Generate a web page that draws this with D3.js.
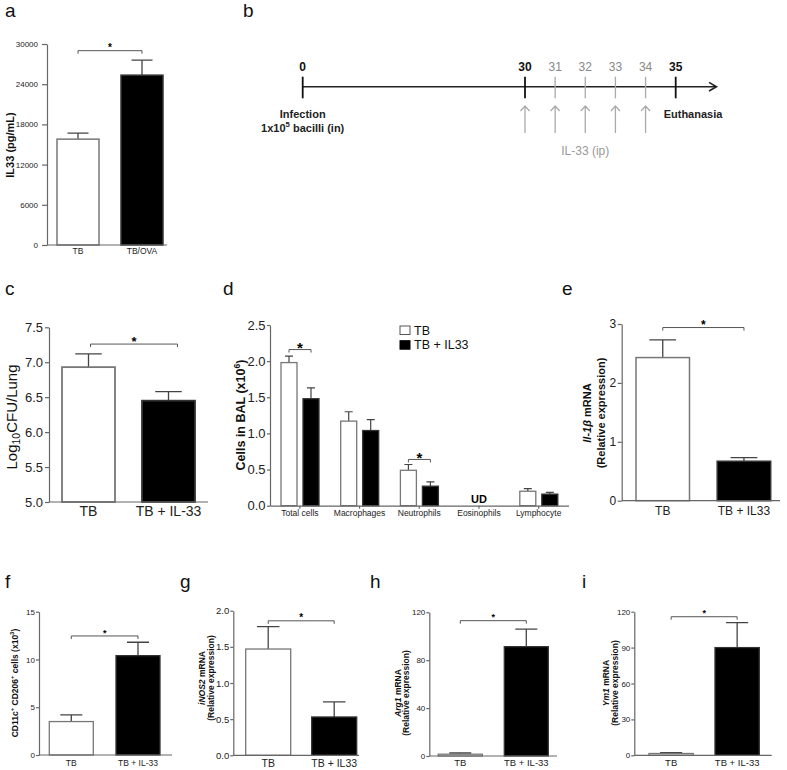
<!DOCTYPE html>
<meta charset="utf-8">
<script src="https://d3js.org/d3.v7.min.js"></script>
<style>
  body { margin: 0; background: #fff; }
  text { font-family: "Liberation Sans", Arial, sans-serif; }
</style>
<div id="fig"></div>
<script>
// ---- data ----
// a: IL33 in lung
const groupsA = ["TB", "TB/OVA"];
const il33A = [15800, 25350];
const semA = [900, 2250];
const ticksA = [0, 6000, 12000, 18000, 24000, 30000];

// b: protocol timeline (days)
const timelineDays = [0, 30, 31, 32, 33, 34, 35];
const keyDays = [0, 30, 35];
const doseDays = [30, 31, 32, 33, 34];

// c: CFU
const groupsC = ["TB", "TB + IL-33"];
const cfuC = [6.93, 6.45];
const semC = [0.19, 0.13];
const ticksC = [5.0, 5.5, 6.0, 6.5, 7.0, 7.5];

// d: cells in BAL
const cellTypes = ["Total cells", "Macrophages", "Neutrophils", "Eosinophils", "Lymphocyte"];
const seriesD = ["TB", "TB + IL33"];
const cellsTB = [1.98, 1.17, 0.49, null, 0.20];
const semCellsTB = [0.09, 0.13, 0.08, null, 0.035];
const cellsIL33 = [1.48, 1.04, 0.27, null, 0.16];
const semCellsIL33 = [0.15, 0.15, 0.06, null, 0.025];
const ticksD = [0, 0.5, 1.0, 1.5, 2.0, 2.5];

// e: Il-1b mRNA
const groupsE = ["TB", "TB + IL33"];
const il1bE = [2.43, 0.67];
const semE = [0.30, 0.06];
const ticksE = [0, 1, 2, 3];

// f: CD11c+ CD206+ cells
const groupsF = ["TB", "TB + IL-33"];
const cd206F = [3.5, 10.4];
const semF = [0.7, 1.4];
const ticksF = [0, 5, 10, 15];

// g: iNOS2 mRNA
const groupsG = ["TB", "TB + IL33"];
const inos2G = [1.47, 0.53];
const semG = [0.31, 0.21];
const ticksG = [0, 0.5, 1.0, 1.5, 2.0];

// h: Arg1 mRNA
const groupsH = ["TB", "TB + IL-33"];
const arg1H = [1.5, 91.3];
const semH = [1.0, 14.7];
const ticksH = [0, 40, 80, 120];

// i: Ym1 mRNA
const groupsI = ["TB", "TB + IL-33"];
const ym1I = [1.5, 90];
const semI = [0.7, 20.8];
const ticksI = [0, 30, 60, 90, 120];

const svg = d3.select("#fig").append("svg")
    .attr("width", 787)
    .attr("height", 770);

const AXIS = "#666";

// text with italic / sup / sub pieces
function rich(sel, segs, fs) {
    let cur = 0;
    segs.forEach(s => {
        let target = 0, size = fs;
        if (s.sup) { target = -fs * 0.42; size = fs * 0.7; }
        if (s.sub) { target = fs * 0.25; size = fs * 0.7; }
        const ts = sel.append("tspan").text(s.t).attr("font-size", size);
        if (target !== cur) ts.attr("dy", target - cur);
        if (s.it) ts.attr("font-style", "italic");
        cur = target;
    });
}

function yTitle(lines, xs, cy, fs, bold) {
    lines.forEach((segs, i) => {
        const t = svg.append("text")
            .attr("transform", `translate(${xs[i]},${cy}) rotate(-90)`)
            .attr("text-anchor", "middle")
            .attr("font-size", fs)
            .attr("font-weight", bold ? "bold" : "normal")
            .attr("fill", "#111");
        rich(t, segs, fs);
    });
}

function letter(t, x, y) {
    svg.append("text").attr("x", x).attr("y", y)
        .attr("font-size", 19).attr("fill", "#111").text(t);
}

function bracket(x1, x2, yy, starSize) {
    svg.append("path")
        .attr("d", `M${x1},${yy + 3}V${yy}H${x2}V${yy + 3}`)
        .attr("fill", "none").attr("stroke", "#555").attr("stroke-width", 1);
    svg.append("text")
        .attr("x", (x1 + x2) / 2)
        .attr("y", yy - 5.5 + starSize * 0.58)
        .attr("text-anchor", "middle")
        .attr("font-size", starSize)
        .attr("font-weight", "bold")
        .text("*");
}

function leftAxis(y, x0, ticks, fmt, o) {
    svg.append("g")
        .attr("transform", `translate(${x0},0)`)
        .call(d3.axisLeft(y).tickValues(ticks).tickFormat(fmt)
            .tickSize(o.tl).tickSizeOuter(0).tickPadding(o.tp))
        .call(a => {
            a.attr("font-size", null).attr("font-family", null);
            a.selectAll("text").attr("font-size", o.tf).attr("fill", "#222");
            a.selectAll("line,path").attr("stroke", AXIS).attr("stroke-width", 1.2);
        });
}

// two-bar panel
function twoBar(o) {
    const y = d3.scaleLinear().domain(o.domain).range([o.yBot, o.yTop]);
    const n = o.labels.length;
    const tot = o.bars[1] - o.bars[0];
    const x = d3.scaleBand().domain(o.labels).range(o.bars)
        .paddingInner((tot - n * o.bw) / (tot - o.bw)).paddingOuter(0);
    const rows = o.labels.map((k, i) => ({ k, m: o.means[i], s: o.sems[i], i }));
    const bw = x.bandwidth();

    // error bars (upper only)
    const cap = bw * (o.cap || 0.5) / 2;
    svg.append("g").selectAll("path").data(rows).join("path")
        .attr("d", d => {
            const cx = x(d.k) + bw / 2, y0 = y(d.m), y1 = y(d.m + d.s);
            return `M${cx},${y0}V${y1}M${cx - cap},${y1}H${cx + cap}`;
        })
        .attr("fill", "none").attr("stroke", "#444").attr("stroke-width", 1.3);

    svg.append("g").selectAll("rect").data(rows).join("rect")
        .attr("x", d => x(d.k))
        .attr("width", bw)
        .attr("y", d => y(d.m))
        .attr("height", d => o.yBot - y(d.m))
        .attr("fill", d => d.i ? "#000" : "#fff")
        .attr("stroke", d => d.i ? "#333" : "#777")
        .attr("stroke-width", o.sw || 1.3);

    leftAxis(y, o.x0, o.ticks, o.fmt, o);

    // x axis line + labels
    svg.append("line")
        .attr("x1", o.x0).attr("x2", o.x1)
        .attr("y1", o.yBot).attr("y2", o.yBot)
        .attr("stroke", AXIS).attr("stroke-width", 1.2);
    svg.append("g")
        .attr("transform", `translate(0,${o.yBot})`)
        .call(d3.axisBottom(x).tickSize(0).tickPadding(o.xBase - o.yBot - 0.71 * o.xf))
        .call(a => {
            a.attr("font-size", null).attr("font-family", null);
            a.select(".domain").remove();
            a.selectAll("text").attr("font-size", o.xf).attr("fill", "#222");
        });

    const c0 = x(o.labels[0]) + bw / 2 + (o.bOff ? o.bOff[0] : 0);
    const c1 = x(o.labels[1]) + bw / 2 + (o.bOff ? o.bOff[1] : 0);
    bracket(c0, c1, y(o.sig), o.star);
}

// ---------------- panel a ----------------
letter("a", 5, 17);
twoBar({
    labels: groupsA, means: il33A, sems: semA, ticks: ticksA, fmt: d3.format("d"),
    domain: [0, 30000], yTop: 44, yBot: 245, x0: 47, x1: 167, bars: [57, 163], bw: 42,
    tl: 5, tp: 4, tf: 8, xf: 8.5, xBase: 254, sig: 29000, star: 10, sw: 1.5
});
yTitle([[{ t: "IL33 (pg/mL)" }]], [14], 145, 11, true);

// ---------------- panel b ----------------
letter("b", 243, 17);
const tx = d3.scaleLinear().domain([0, 30, 35]).range([302.7, 525, 675.7]);
const lineY = 86.7;
svg.append("line")
    .attr("x1", tx(0)).attr("x2", 716)
    .attr("y1", lineY).attr("y2", lineY)
    .attr("stroke", "#222").attr("stroke-width", 1.6);
svg.append("path")
    .attr("d", `M709,${lineY - 4.3}L716.5,${lineY}L709,${lineY + 4.3}`)
    .attr("fill", "none").attr("stroke", "#222").attr("stroke-width", 1.6);

svg.append("g").selectAll("line").data(timelineDays).join("line")
    .attr("x1", d => tx(d)).attr("x2", d => tx(d))
    .attr("y1", 76.7).attr("y2", 98.3)
    .attr("stroke", d => keyDays.includes(d) ? "#111" : "#aaa")
    .attr("stroke-width", d => keyDays.includes(d) ? 1.8 : 1.3);
svg.append("g").selectAll("text").data(timelineDays).join("text")
    .attr("x", d => tx(d)).attr("y", 71)
    .attr("text-anchor", "middle")
    .attr("font-size", 12)
    .attr("font-weight", d => keyDays.includes(d) ? "bold" : "normal")
    .attr("fill", d => keyDays.includes(d) ? "#111" : "#888")
    .text(d => d);

// dose arrows
svg.append("g").selectAll("path").data(doseDays).join("path")
    .attr("d", d => {
        const x = tx(d);
        return `M${x},133V106M${x - 4.5},111L${x},106L${x + 4.5},111`;
    })
    .attr("fill", "none").attr("stroke", "#aaa").attr("stroke-width", 1.3);
svg.append("text").attr("x", tx(32)).attr("y", 154.5)
    .attr("text-anchor", "middle").attr("font-size", 12).attr("fill", "#999")
    .text("IL-33 (ip)");

svg.append("text").attr("x", tx(0)).attr("y", 117.5)
    .attr("text-anchor", "middle").attr("font-size", 11).attr("font-weight", "bold")
    .attr("fill", "#222").text("Infection");
const inf = svg.append("text").attr("x", tx(0)).attr("y", 132)
    .attr("text-anchor", "middle").attr("font-size", 11).attr("font-weight", "bold")
    .attr("fill", "#222");
rich(inf, [{ t: "1x10" }, { t: "5", sup: true }, { t: " bacilli (in)" }], 11);
svg.append("text").attr("x", 693).attr("y", 117.5)
    .attr("text-anchor", "middle").attr("font-size", 11).attr("font-weight", "bold")
    .attr("fill", "#222").text("Euthanasia");

// ---------------- panel c ----------------
letter("c", 5, 295);
twoBar({
    labels: groupsC, means: cfuC, sems: semC, ticks: ticksC, fmt: d3.format(".1f"),
    domain: [5, 7.5], yTop: 327.3, yBot: 502, x0: 49, x1: 208, bars: [62, 195], bw: 53,
    tl: 4, tp: 2, tf: 13, xf: 14, xBase: 516, sig: 7.26, star: 13, sw: 1.8, bOff: [2, 9]
});
yTitle([[{ t: "Log" }, { t: "10", sub: true }, { t: "CFU/Lung" }]], [16.5], 417, 15, false);

// ---------------- panel d ----------------
letter("d", 223, 295);
{
    const y = d3.scaleLinear().domain([0, 2.5]).range([505.7, 325]);
    const xg = d3.scaleBand().domain(cellTypes).range([270, 568.5]).padding(0);
    const xs = d3.scaleBand().domain(seriesD).range([11, 49]).paddingInner(6 / 22).paddingOuter(0);
    const rows = [];
    cellTypes.forEach((c, i) => {
        rows.push({ c, s: seriesD[0], m: cellsTB[i], e: semCellsTB[i], k: 0 });
        rows.push({ c, s: seriesD[1], m: cellsIL33[i], e: semCellsIL33[i], k: 1 });
    });
    const vals = rows.filter(d => d.m !== null);
    const bw = xs.bandwidth();
    svg.append("g").selectAll("path").data(vals).join("path")
        .attr("d", d => {
            const cx = xg(d.c) + xs(d.s) + bw / 2, y0 = y(d.m), y1 = y(d.m + d.e);
            return `M${cx},${y0}V${y1}M${cx - 4},${y1}H${cx + 4}`;
        })
        .attr("fill", "none").attr("stroke", "#444").attr("stroke-width", 1.2);
    svg.append("g").selectAll("rect").data(vals).join("rect")
        .attr("x", d => xg(d.c) + xs(d.s))
        .attr("width", bw)
        .attr("y", d => y(d.m))
        .attr("height", d => y(0) - y(d.m))
        .attr("fill", d => d.k ? "#000" : "#fff")
        .attr("stroke", d => d.k ? "#333" : "#777")
        .attr("stroke-width", 1.3);

    leftAxis(y, 270, ticksD, d3.format(".1f"), { tl: 3, tp: 1.5, tf: 13 });
    svg.append("g")
        .attr("transform", "translate(0,505.7)")
        .call(d3.axisBottom(xg).tickSize(3).tickSizeOuter(0).tickPadding(516 - 505.7 - 3 - 0.71 * 8.5))
        .call(a => {
            a.attr("font-size", null).attr("font-family", null);
            a.selectAll("text").attr("font-size", 8.5).attr("fill", "#222");
            a.selectAll("line,path").attr("stroke", AXIS).attr("stroke-width", 1.2);
        });

    // undetected eosinophils
    svg.append("text").attr("x", xg("Eosinophils") + xg.bandwidth() / 2).attr("y", 503)
        .attr("text-anchor", "middle").attr("font-size", 11).attr("font-weight", "bold").text("UD");

    // significance
    const cx = (c, s) => xg(c) + xs(s) + bw / 2;
    bracket(cx("Total cells", seriesD[0]), cx("Total cells", seriesD[1]), y(2.16), 15);
    bracket(cx("Neutrophils", seriesD[0]), cx("Neutrophils", seriesD[1]), y(0.64), 15);

    // legend
    const lg = svg.append("g").selectAll("g").data(seriesD).join("g")
        .attr("transform", (d, i) => `translate(400,${326 + i * 14.7})`);
    lg.append("rect").attr("width", 10).attr("height", 8.5)
        .attr("fill", (d, i) => i ? "#000" : "#fff")
        .attr("stroke", (d, i) => i ? "#000" : "#555").attr("stroke-width", 1);
    lg.append("text").attr("x", 14).attr("y", 8.5)
        .attr("font-size", 12.5).attr("fill", "#111").text(d => d);
}
yTitle([[{ t: "Cells in BAL (x10" }, { t: "6", sup: true }, { t: ")" }]], [245], 415, 12.5, true);

// ---------------- panel e ----------------
letter("e", 562, 295);
twoBar({
    labels: groupsE, means: il1bE, sems: semE, ticks: ticksE, fmt: d3.format("d"),
    domain: [0, 3], yTop: 324, yBot: 500.7, x0: 621.7, x1: 780, bars: [636, 770.7], bw: 53.5,
    tl: 4, tp: 1.5, tf: 12, xf: 12, xBase: 515, sig: 2.94, star: 12, sw: 1.5
});
yTitle([[{ t: "Il-1β", it: true }, { t: " mRNA" }], [{ t: "(Relative expression)" }]],
    [591, 605], 413, 11, true);

// ---------------- panel f ----------------
letter("f", 5, 588);
twoBar({
    labels: groupsF, means: cd206F, sems: semF, ticks: ticksF, fmt: d3.format("d"),
    domain: [0, 15], yTop: 611.7, yBot: 755, x0: 39, x1: 172, bars: [49.3, 160], bw: 44,
    tl: 3, tp: 1, tf: 8, xf: 8.5, xBase: 766, sig: 12.46, star: 9
});
yTitle([[{ t: "CD11c" }, { t: "+", sup: true }, { t: " CD206" }, { t: "+", sup: true },
    { t: " cells (x10" }, { t: "3", sup: true }, { t: ")" }]], [18], 683, 8.5, true);

// ---------------- panel g ----------------
letter("g", 180, 588);
twoBar({
    labels: groupsG, means: inos2G, sems: semG, ticks: ticksG, fmt: d3.format(".1f"),
    domain: [0, 2], yTop: 610.7, yBot: 755.3, x0: 233.3, x1: 359, bars: [245.7, 356.7], bw: 45,
    tl: 3, tp: 1, tf: 9.5, xf: 10.5, xBase: 767, sig: 1.86, star: 10
});
yTitle([[{ t: "iNOS2", it: true }, { t: " mRNA" }], [{ t: "(Relative expression)" }]],
    [205, 213.5], 678, 8.5, true);

// ---------------- panel h ----------------
letter("h", 370, 588);
twoBar({
    labels: groupsH, means: arg1H, sems: semH, ticks: ticksH, fmt: d3.format("d"),
    domain: [0, 120], yTop: 612.3, yBot: 756, x0: 429.3, x1: 557, bars: [438.3, 548.3], bw: 44,
    tl: 3, tp: 1, tf: 8, xf: 9.5, xBase: 766, sig: 113, star: 9
});
yTitle([[{ t: "Arg1", it: true }, { t: " mRNA" }], [{ t: "(Relative expression)" }]],
    [400.5, 409], 693, 8.5, true);

// ---------------- panel i ----------------
letter("i", 582, 588);
twoBar({
    labels: groupsI, means: ym1I, sems: semI, ticks: ticksI, fmt: d3.format("d"),
    domain: [0, 120], yTop: 611.7, yBot: 755.3, x0: 634.3, x1: 771.7, bars: [649, 759.3], bw: 44.3,
    tl: 3, tp: 1, tf: 8, xf: 9.5, xBase: 766, sig: 115.8, star: 9
});
yTitle([[{ t: "Ym1", it: true }, { t: " mRNA" }], [{ t: "(Relative expression)" }]],
    [608.5, 617.5], 683, 8.5, true);
</script>
